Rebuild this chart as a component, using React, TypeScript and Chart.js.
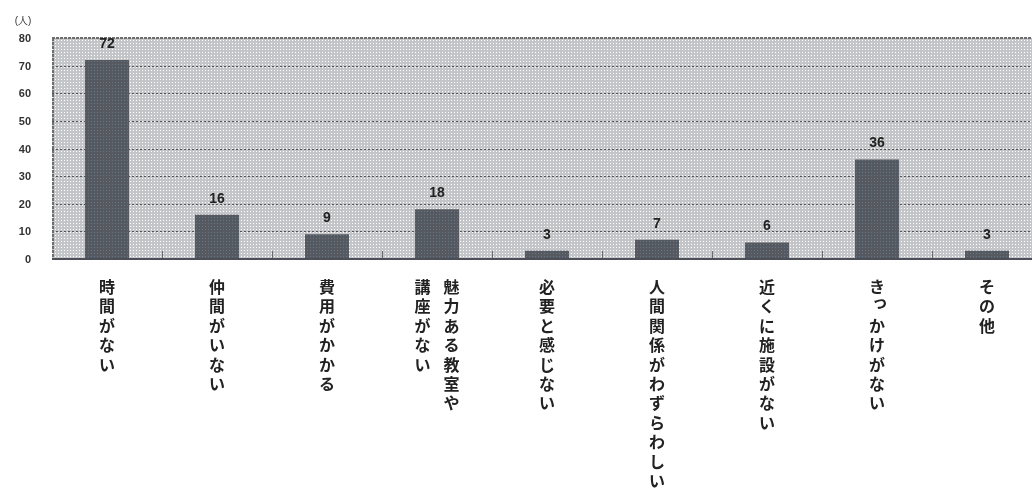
import React, { useEffect, useRef } from "react";
import { Chart, registerables } from "chart.js";

Chart.register(...registerables);

// category labels (vertical writing, columns read right-to-left)
const categoryColumns: string[][] = [
  ["時間がない"],
  ["仲間がいない"],
  ["費用がかかる"],
  ["魅力ある教室や", "講座がない"],
  ["必要と感じない"],
  ["人間関係がわずらわしい"],
  ["近くに施設がない"],
  ["きっかけがない"],
  ["その他"],
];
const categories = categoryColumns.map((c) => c.join(""));
const values = [72, 16, 9, 18, 3, 7, 6, 36, 3];
const yMin = 0;
const yMax = 80;
const yStep = 10;
const unitLabel = "(人)";

const SMALL_KANA = "ぁぃぅぇぉっゃゅょァィゥェォッャュョ";

function makePattern(ctx: CanvasRenderingContext2D, base: string, dot: string, size: number) {
  const c = document.createElement("canvas");
  c.width = size;
  c.height = size;
  const t = c.getContext("2d")!;
  t.fillStyle = base;
  t.fillRect(0, 0, size, size);
  t.fillStyle = dot;
  t.fillRect(1, 1, 1, 1);
  return ctx.createPattern(c, "repeat")!;
}

export default function App() {
  const canvasRef = useRef<HTMLCanvasElement | null>(null);

  useEffect(() => {
    document.body.style.margin = "0";
    document.body.style.overflow = "hidden";
    document.documentElement.style.overflow = "hidden";
    const canvas = canvasRef.current!;
    const ctx0 = canvas.getContext("2d")!;
    const bgPattern = makePattern(ctx0, "#c4c5c9", "#ffffff", 3);
    const barPattern = makePattern(ctx0, "#56595f", "#607888", 3);

    const decor = {
      id: "decor",
      beforeDraw(chart: any) {
        const { ctx, chartArea } = chart;
        ctx.save();
        ctx.fillStyle = bgPattern;
        ctx.fillRect(chartArea.left, chartArea.top, chartArea.right - chartArea.left, chartArea.bottom - chartArea.top);
        // horizontal gridlines
        const ys = chart.scales.y;
        ctx.strokeStyle = "#555";
        ctx.lineWidth = 1;
        ctx.setLineDash([2, 2]);
        for (let v = yMin + yStep; v < yMax; v += yStep) {
          const y = Math.round(ys.getPixelForValue(v)) + 0.5;
          ctx.beginPath();
          ctx.moveTo(chartArea.left, y);
          ctx.lineTo(chartArea.right, y);
          ctx.stroke();
        }
        ctx.restore();
      },
      afterDatasetsDraw(chart: any) {
        const { ctx, chartArea } = chart;
        const xs = chart.scales.x;
        const ys = chart.scales.y;
        ctx.save();
        // category boundary ticks
        ctx.strokeStyle = "#6a6a6a";
        ctx.lineWidth = 1;
        for (let i = 1; i < categories.length; i++) {
          const bx = Math.round((xs.getPixelForValue(i - 1) + xs.getPixelForValue(i)) / 2) + 0.5;
          ctx.beginPath();
          ctx.moveTo(bx, chartArea.bottom - 8);
          ctx.lineTo(bx, chartArea.bottom);
          ctx.stroke();
        }
        // frame
        ctx.strokeStyle = "#6e6e6e";
        ctx.lineWidth = 2;
        ctx.setLineDash([3, 1]);
        ctx.beginPath();
        ctx.moveTo(chartArea.left, chartArea.top);
        ctx.lineTo(chartArea.right, chartArea.top);
        ctx.stroke();
        ctx.beginPath();
        ctx.moveTo(chartArea.left + 1, chartArea.top);
        ctx.lineTo(chartArea.left + 1, chartArea.bottom);
        ctx.stroke();
        ctx.setLineDash([]);
        ctx.strokeStyle = "#4c4f57";
        ctx.beginPath();
        ctx.moveTo(chartArea.left, chartArea.bottom);
        ctx.lineTo(chartArea.right, chartArea.bottom);
        ctx.stroke();

        // value labels
        ctx.fillStyle = "#222";
        ctx.font = 'bold 14px "Liberation Sans", Arial, sans-serif';
        ctx.textAlign = "center";
        ctx.textBaseline = "middle";
        values.forEach((v, i) => {
          ctx.fillText(String(v), xs.getPixelForValue(i), ys.getPixelForValue(v) - 16);
        });

        // unit label
        ctx.font = '10px "Liberation Sans", Arial, sans-serif';
        ctx.fillStyle = "#333";
        ctx.fillText(unitLabel, 23, 21);

        // vertical category labels
        ctx.font = 'bold 16px "Noto Sans CJK JP", sans-serif';
        ctx.fillStyle = "#222";
        categoryColumns.forEach((cols, i) => {
          const cx = xs.getPixelForValue(i);
          const n = cols.length;
          cols.forEach((col, j) => {
            const colX = cx + ((n - 1) / 2 - j) * 29;
            Array.from(col).forEach((ch, k) => {
              let dx = 0;
              let dy = 0;
              if (SMALL_KANA.includes(ch)) {
                dx = 3;
                dy = -4;
              }
              ctx.fillText(ch, colX + dx, chartArea.bottom + 28 + k * 19.4 + dy);
            });
          });
        });
        ctx.restore();
      },
    };

    const chart = new Chart(canvas, {
      type: "bar",
      data: {
        labels: categories,
        datasets: [
          {
            data: values,
            backgroundColor: barPattern as any,
            borderWidth: 0,
            barPercentage: 0.4,
            categoryPercentage: 1,
          },
        ],
      },
      options: {
        animation: false,
        responsive: true,
        maintainAspectRatio: false,
        layout: { padding: { top: 38, bottom: 232, left: 0, right: 0 } },
        plugins: { legend: { display: false }, tooltip: { enabled: false }, title: { display: false } },
        scales: {
          x: { display: false },
          y: {
            min: yMin,
            max: yMax,
            ticks: {
              stepSize: yStep,
              padding: 21,
              labelOffset: 1,
              color: "#333",
              font: { family: '"Liberation Sans", Arial, sans-serif', size: 11, weight: "bold" },
            },
            grid: { display: false, drawTicks: false },
            border: { display: false },
            afterFit: (scale: any) => {
              scale.width = 52;
            },
          },
        },
      },
      plugins: [decor],
    });
    return () => chart.destroy();
  }, []);

  return (
    <div style={{ position: "relative", width: 1042, height: 491 }}>
      <canvas ref={canvasRef} />
    </div>
  );
}
